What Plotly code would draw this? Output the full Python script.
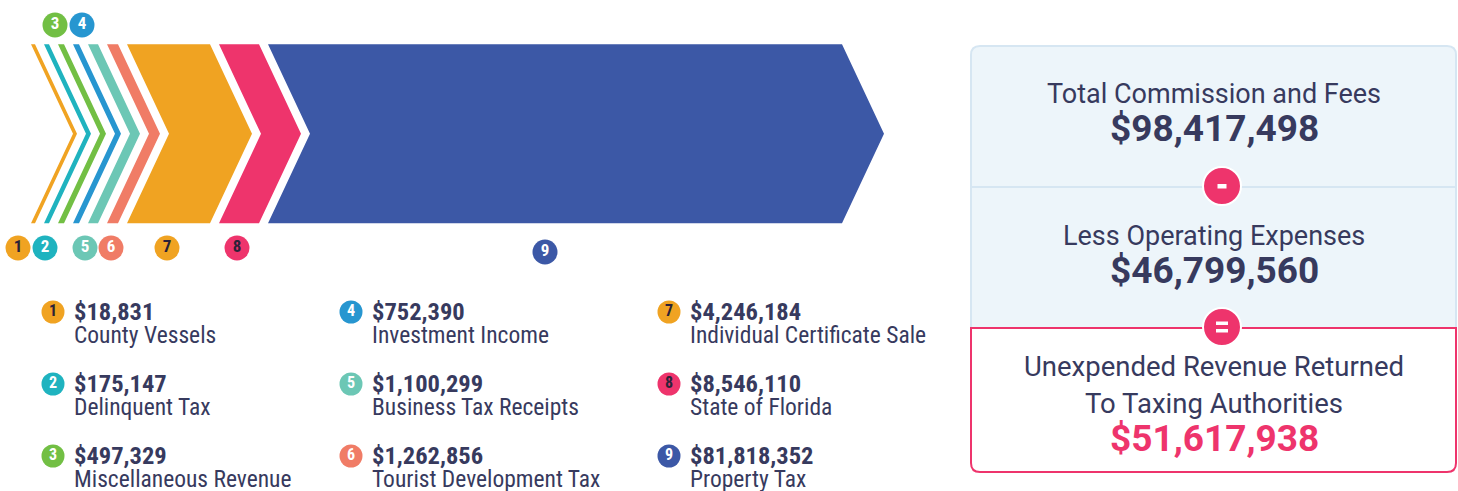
import plotly.graph_objects as go

# ---------------- data ----------------
categories = ["County Vessels", "Delinquent Tax", "Miscellaneous Revenue",
              "Investment Income", "Business Tax Receipts", "Tourist Development Tax",
              "Individual Certificate Sale", "State of Florida", "Property Tax"]
values = [18831, 175147, 497329, 752390, 1100299, 1262856, 4246184, 8546110, 81818352]
badge_numbers = ["1", "2", "3", "4", "5", "6", "7", "8", "9"]

summary_labels = ["Total Commission and Fees", "Less Operating Expenses",
                  "Unexpended Revenue Returned", "To Taxing Authorities"]
total_fees = 98417498
operating_expenses = 46799560
returned_revenue = 51617938

# ---------------- styles / layout ----------------
colors = ["#F0A322", "#1FB3BF", "#72BF44", "#2796D0", "#6CC7B5", "#F07C66",
          "#F0A322", "#EE346C", "#3C58A6"]
badge_text_colors = ["#2B2238", "white", "white", "white", "white", "white",
                     "#2B2238", "#2B2238", "white"]
chevron_widths = [4, 5, 6, 6, 10, 11, 83, 40, 574]   # display widths (decorative)
chevron_gap = 9
chevron_x0 = 31
top, bot = 44.3, 223.3
mid = (top + bot) / 2
tip = 42

badge_pos = [(18, 248), (45, 248), (55, 25), (82, 25), (85, 248), (111, 248),
             (167, 248), (237, 248), (545, 252)]

NAVY = "#373A5E"
PINK = "#EE346C"
COND = "Roboto Condensed, Roboto, sans-serif"
SANS = "Roboto, sans-serif"

W, H = 1458, 491

fig = go.Figure()

# chevrons
x = chevron_x0
for i, (w, c) in enumerate(zip(chevron_widths, colors)):
    xs = [x, x + w, x + w + tip, x + w, x, x + tip, x]
    ys = [top, top, mid, bot, bot, mid, top]
    fig.add_trace(go.Scatter(x=xs, y=ys, fill="toself", fillcolor=c, mode="lines",
                             line=dict(width=0, color=c), hoverinfo="skip",
                             showlegend=False))
    x += w + chevron_gap

# chevron badges
fig.add_trace(go.Scatter(
    x=[p[0] for p in badge_pos], y=[p[1] for p in badge_pos],
    mode="markers+text", text=[f"<b>{n}</b>" for n in badge_numbers],
    textposition="middle center", cliponaxis=False,
    textfont=dict(family=COND, size=17, color=badge_text_colors),
    marker=dict(size=25, color=colors, line=dict(width=0)),
    hoverinfo="skip", showlegend=False))

# legend columns
col_x = [74, 372, 690]
row_y = [311, 383, 455]
lx, ly = [], []
for i, (cat, v) in enumerate(zip(categories, values)):
    cx = col_x[i // 3]
    ry = row_y[i % 3]
    lx.append(cx - 21)
    ly.append(ry + 1)
    fig.add_annotation(x=cx - 2, y=ry, xref="x", yref="y", xanchor="left", yanchor="middle",
                       text=f"<b>${v:,}</b>", showarrow=False,
                       font=dict(family=COND, size=24.5, color=NAVY))
    fig.add_annotation(x=cx - 2, y=ry + 24, xref="x", yref="y", xanchor="left", yanchor="middle",
                       text=cat, showarrow=False,
                       font=dict(family=COND, size=23.5, color=NAVY))
fig.add_trace(go.Scatter(
    x=lx, y=ly, mode="markers+text", text=[f"<b>{n}</b>" for n in badge_numbers],
    textposition="middle center", cliponaxis=False,
    textfont=dict(family=COND, size=16, color=badge_text_colors),
    marker=dict(size=23, color=colors, line=dict(width=0)),
    hoverinfo="skip", showlegend=False))


# ---------------- summary panel ----------------
def rrect(x0, y0, x1, y1, r_top, r_bot):
    # y increases downward (reversed axis)
    return (f"M {x0 + r_top},{y0} L {x1 - r_top},{y0} Q {x1},{y0} {x1},{y0 + r_top} "
            f"L {x1},{y1 - r_bot} Q {x1},{y1} {x1 - r_bot},{y1} "
            f"L {x0 + r_bot},{y1} Q {x0},{y1} {x0},{y1 - r_bot} "
            f"L {x0},{y0 + r_top} Q {x0},{y0} {x0 + r_top},{y0} Z")


PX0, PX1 = 971, 1456
fig.add_shape(type="path", path=rrect(PX0, 46, PX1, 340, 9, 0), xref="x", yref="y",
              fillcolor="#EDF5FA", line=dict(color="#D6E6F2", width=2), layer="below")
fig.add_shape(type="line", x0=PX0, x1=PX1, y0=187, y1=187, xref="x", yref="y",
              line=dict(color="#D6E6F2", width=2), layer="below")
fig.add_shape(type="path", path=rrect(PX0, 328, PX1, 472, 0, 9), xref="x", yref="y",
              fillcolor="white", line=dict(color=PINK, width=2), layer="below")

pcx = 1214
fig.add_annotation(x=pcx, y=94, text=summary_labels[0], showarrow=False, xref="x", yref="y",
                   font=dict(family=SANS, size=27, color=NAVY))
fig.add_annotation(x=pcx, y=128, text=f"<b>${total_fees:,}</b>", showarrow=False,
                   xref="x", yref="y", font=dict(family=SANS, size=37, color=NAVY))
fig.add_annotation(x=pcx, y=236, text=summary_labels[1], showarrow=False, xref="x", yref="y",
                   font=dict(family=SANS, size=27, color=NAVY))
fig.add_annotation(x=pcx, y=270, text=f"<b>${operating_expenses:,}</b>", showarrow=False,
                   xref="x", yref="y", font=dict(family=SANS, size=37, color=NAVY))
fig.add_annotation(x=pcx, y=366, text=summary_labels[2], showarrow=False, xref="x", yref="y",
                   font=dict(family=SANS, size=27.5, color=NAVY))
fig.add_annotation(x=pcx, y=403, text=summary_labels[3], showarrow=False, xref="x", yref="y",
                   font=dict(family=SANS, size=27.5, color=NAVY))
fig.add_annotation(x=pcx, y=438, text=f"<b>${returned_revenue:,}</b>", showarrow=False,
                   xref="x", yref="y", font=dict(family=SANS, size=37, color=PINK))

# operator badges
fig.add_trace(go.Scatter(
    x=[1222, 1222], y=[186, 327], mode="markers", cliponaxis=False,
    marker=dict(size=38, color=PINK, line=dict(color="white", width=2)),
    hoverinfo="skip", showlegend=False))
# operator glyphs (small white bars)
fig.add_shape(type="rect", x0=1217.5, x1=1226.5, y0=184, y1=188.5, xref="x", yref="y",
              fillcolor="white", line=dict(width=0))
fig.add_shape(type="rect", x0=1216, x1=1228, y0=321.5, y1=325, xref="x", yref="y",
              fillcolor="white", line=dict(width=0))
fig.add_shape(type="rect", x0=1216, x1=1228, y0=329, y1=332.5, xref="x", yref="y",
              fillcolor="white", line=dict(width=0))

fig.update_layout(
    width=W, height=H, margin=dict(l=0, r=0, t=0, b=0, pad=0),
    paper_bgcolor="white", plot_bgcolor="white",
    xaxis=dict(range=[0, W], visible=False, fixedrange=True),
    yaxis=dict(range=[H, 0], visible=False, fixedrange=True),
    showlegend=False,
)
fig.write_html("out.html", config={"displayModeBar": False},
               post_script="document.body.style.margin='0';"
                           "document.body.style.overflow='hidden';")
